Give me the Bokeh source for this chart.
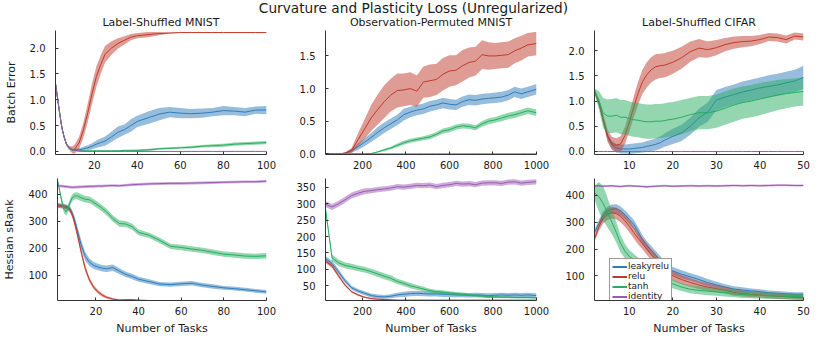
import numpy as np
from bokeh.plotting import figure
from bokeh.models import Range1d, FixedTicker, NumeralTickFormatter, Label, Legend, LegendItem
from bokeh.layouts import column, row
from bokeh.embed import file_html
from bokeh.resources import INLINE

FONT = "DejaVu Sans"
INK = "#1a1a1a"

suptitle = "Curvature and Plasticity Loss (Unregularized)"
panel_titles = ["Label-Shuffled MNIST", "Observation-Permuted MNIST", "Label-Shuffled CIFAR"]
methods = ["leakyrelu", "relu", "tanh", "identity"]
colors = ["#2f7cba", "#c0392b", "#27ae60", "#9b59b6"]
row_labels = ["Batch Error", "Hessian sRank"]
x_label = "Number of Tasks"

# ---------------- Label-Shuffled MNIST ----------------
x_lsm = [2, 4, 5, 6, 7, 8, 9, 10, 11, 13, 15, 17, 19, 21, 23, 25, 28, 31, 34, 37, 40,
         45, 50, 55, 60, 65, 70, 75, 80, 85, 90, 95, 100]

err_lsm_leakyrelu = [1.31, 0.72, 0.45, 0.28, 0.15, 0.08, 0.05, 0.03, 0.03, 0.03, 0.05, 0.07, 0.10, 0.14, 0.17, 0.20, 0.28, 0.37, 0.42, 0.50, 0.58,
                     0.65, 0.72, 0.76, 0.74, 0.73, 0.74, 0.76, 0.79, 0.78, 0.76, 0.80, 0.80]
err_lsm_leakyrelu_sd = [0.02, 0.02, 0.02, 0.02, 0.02, 0.02, 0.02, 0.02, 0.02, 0.03, 0.04, 0.05, 0.06, 0.07, 0.08, 0.09, 0.10, 0.11, 0.10, 0.12, 0.11,
                        0.12, 0.12, 0.10, 0.10, 0.09, 0.09, 0.08, 0.09, 0.08, 0.08, 0.07, 0.08]
err_lsm_relu = [1.31, 0.72, 0.45, 0.28, 0.15, 0.08, 0.05, 0.03, 0.05, 0.17, 0.42, 0.75, 1.12, 1.45, 1.68, 1.88, 2.00, 2.09, 2.15, 2.21, 2.24,
                2.26, 2.28, 2.29, 2.30, 2.30, 2.30, 2.30, 2.30, 2.30, 2.30, 2.30, 2.30]
err_lsm_relu_sd = [0.02, 0.02, 0.02, 0.03, 0.03, 0.04, 0.05, 0.07, 0.09, 0.12, 0.15, 0.18, 0.20, 0.20, 0.18, 0.16, 0.13, 0.10, 0.08, 0.06, 0.05,
                   0.05, 0.03, 0.01, 0.005, 0.005, 0.005, 0.005, 0.005, 0.005, 0.005, 0.005, 0.005]
err_lsm_tanh = [1.31, 0.72, 0.45, 0.28, 0.15, 0.08, 0.05, 0.03, 0.02, 0.01, 0.01, 0.01, 0.01, 0.01, 0.01, 0.01, 0.01, 0.01, 0.02, 0.02, 0.02,
                0.03, 0.05, 0.06, 0.07, 0.08, 0.10, 0.11, 0.12, 0.14, 0.15, 0.16, 0.17]
err_lsm_tanh_sd = [0.02, 0.02, 0.02, 0.02, 0.02, 0.02, 0.02, 0.02, 0.01, 0.01, 0.01, 0.01, 0.01, 0.01, 0.01, 0.01, 0.01, 0.01, 0.01, 0.01, 0.015,
                   0.02, 0.02, 0.02, 0.02, 0.025, 0.025, 0.03, 0.03, 0.03, 0.03, 0.03, 0.03]
err_lsm_identity = [1.31, 0.72, 0.45, 0.28, 0.15, 0.08, 0.05, 0.03, 0.02, 0.01, 0.0, 0.0, 0.0, 0.0, 0.0, 0.0, 0.0, 0.0, 0.0, 0.0, 0.0,
                    0.0, 0.0, 0.0, 0.0, 0.0, 0.0, 0.0, 0.0, 0.0, 0.0, 0.0, 0.0]
err_lsm_identity_sd = [0.01, 0.01, 0.01, 0.01, 0.01, 0.01, 0.01, 0.01, 0.005, 0.005, 0.005, 0.005, 0.005, 0.005, 0.005, 0.005, 0.005, 0.005, 0.005, 0.005, 0.005,
                       0.005, 0.005, 0.005, 0.005, 0.005, 0.005, 0.005, 0.005, 0.005, 0.005, 0.005, 0.005]

srank_lsm_leakyrelu = [360, 358, 357, 355, 352, 345, 328, 305, 275, 215, 170, 148, 136, 130, 126, 124, 128, 115, 103, 95, 85,
                       76, 67, 65, 68, 70, 63, 58, 53, 50, 46, 42, 38]
srank_lsm_leakyrelu_sd = [8, 8, 8, 8, 9, 10, 12, 14, 16, 18, 16, 14, 13, 12, 12, 12, 12, 11, 10, 10, 9,
                          9, 8, 8, 8, 8, 8, 8, 7, 7, 7, 7, 7]
srank_lsm_relu = [358, 356, 354, 352, 348, 340, 322, 295, 262, 190, 125, 82, 55, 38, 26, 18, 11, 8, 9, 9, 7,
                  6, 6, 6, 6, 6, 6, 6, 6, 6, 6, 6, 6]
srank_lsm_relu_sd = [8, 8, 8, 8, 8, 9, 10, 12, 12, 12, 11, 9, 8, 7, 6, 5, 4, 3, 3, 3, 2,
                     2, 2, 2, 2, 2, 2, 2, 2, 2, 2, 2, 2]
srank_lsm_tanh = [452, 375, 345, 335, 350, 372, 388, 394, 395, 388, 382, 380, 370, 360, 348, 335, 310, 292, 290, 280, 259,
                  248, 229, 207, 203, 197, 192, 185, 178, 175, 171, 170, 172]
srank_lsm_tanh_sd = [8, 12, 14, 14, 14, 14, 13, 13, 13, 13, 12, 12, 12, 12, 12, 12, 12, 12, 11, 11, 11,
                     10, 10, 10, 10, 10, 10, 10, 10, 10, 10, 10, 10]
srank_lsm_identity = [432, 431, 430, 429, 428, 427, 426, 427, 427, 428, 429, 430, 430, 431, 431, 432, 433, 432, 434, 436, 437,
                      439, 440, 441, 441, 442, 443, 444, 445, 446, 447, 447, 449]
srank_lsm_identity_sd = [5, 5, 5, 5, 5, 5, 5, 5, 5, 5, 5, 5, 5, 5, 5, 5, 5, 5, 5, 5, 5,
                         5, 5, 5, 5, 5, 5, 5, 5, 5, 5, 5, 5]

# ---------------- Observation-Permuted MNIST ----------------
x_opm = [30, 60, 90, 120, 150, 180, 210, 240, 270, 300, 330, 360, 390, 420, 450, 480, 510,
         540, 570, 600, 630, 660, 690, 720, 750, 780, 810, 840, 870, 900, 930, 960, 1000]

err_opm_leakyrelu = [0, 0, 0, 0.01, 0.05, 0.11, 0.18, 0.25, 0.33, 0.40, 0.46, 0.52, 0.60, 0.64, 0.67, 0.69, 0.73,
                     0.75, 0.78, 0.76, 0.75, 0.80, 0.83, 0.82, 0.84, 0.85, 0.86, 0.87, 0.90, 0.95, 0.92, 0.95, 0.99]
err_opm_leakyrelu_sd = [0, 0, 0, 0.01, 0.03, 0.05, 0.06, 0.07, 0.08, 0.08, 0.08, 0.08, 0.09, 0.08, 0.08, 0.08, 0.08,
                        0.08, 0.08, 0.08, 0.08, 0.08, 0.08, 0.08, 0.08, 0.08, 0.08, 0.08, 0.08, 0.08, 0.08, 0.08, 0.08]
err_opm_relu = [0, 0, 0, 0.01, 0.05, 0.22, 0.38, 0.55, 0.68, 0.80, 0.90, 0.97, 0.98, 1.00, 0.96, 1.10, 1.12,
                1.14, 1.22, 1.27, 1.28, 1.35, 1.40, 1.42, 1.52, 1.50, 1.50, 1.51, 1.52, 1.58, 1.62, 1.67, 1.69]
err_opm_relu_sd = [0, 0, 0, 0.01, 0.04, 0.10, 0.15, 0.20, 0.23, 0.25, 0.25, 0.26, 0.25, 0.25, 0.24, 0.24, 0.25,
                   0.24, 0.25, 0.24, 0.23, 0.24, 0.23, 0.22, 0.22, 0.21, 0.20, 0.20, 0.20, 0.19, 0.19, 0.18, 0.18]
err_opm_tanh = [0, 0, 0, 0, 0, 0, 0, 0.005, 0.03, 0.06, 0.09, 0.13, 0.17, 0.20, 0.22, 0.24, 0.26,
                0.30, 0.35, 0.37, 0.41, 0.43, 0.42, 0.40, 0.46, 0.50, 0.52, 0.55, 0.58, 0.60, 0.63, 0.66, 0.63]
err_opm_tanh_sd = [0, 0, 0, 0, 0, 0, 0, 0.005, 0.01, 0.02, 0.02, 0.03, 0.03, 0.03, 0.03, 0.03, 0.035,
                   0.035, 0.04, 0.04, 0.04, 0.04, 0.04, 0.04, 0.045, 0.045, 0.045, 0.05, 0.05, 0.05, 0.05, 0.05, 0.05]
err_opm_identity = [0, 0, 0, 0, 0, 0, 0, 0, 0, 0, 0, 0, 0, 0, 0, 0, 0,
                    0, 0, 0, 0, 0, 0, 0, 0, 0, 0, 0, 0, 0, 0, 0, 0]
err_opm_identity_sd = [0, 0, 0, 0, 0, 0, 0, 0, 0, 0, 0, 0, 0, 0, 0, 0, 0,
                       0, 0, 0, 0, 0, 0, 0, 0, 0, 0, 0, 0, 0, 0, 0, 0]

srank_opm_leakyrelu = [133, 118, 92, 65, 44, 34, 27, 20, 17, 16, 18, 22, 24, 26, 27, 26, 25,
                       25, 24, 23, 22, 22, 21, 22, 21, 20, 21, 22, 21, 22, 21, 22, 20]
srank_opm_leakyrelu_sd = [8, 8, 8, 7, 6, 6, 6, 6, 6, 6, 6, 7, 8, 8, 8, 8, 8,
                          8, 8, 7, 7, 7, 7, 7, 7, 7, 7, 7, 7, 7, 7, 7, 7]
srank_opm_relu = [125, 110, 80, 52, 32, 22, 15, 11, 9, 8, 7, 6, 6, 6, 6, 6, 6,
                  6, 6, 6, 6, 6, 6, 6, 6, 6, 6, 6, 6, 6, 6, 6, 6]
srank_opm_relu_sd = [6, 6, 5, 4, 3, 3, 2, 2, 2, 2, 1.5, 1.5, 1.5, 1.5, 1.5, 1.5, 1.5,
                     1.5, 1.5, 1.5, 1.5, 1.5, 1.5, 1.5, 1.5, 1.5, 1.5, 1.5, 1.5, 1.5, 1.5, 1.5, 1.5]
srank_opm_tanh = [285, 135, 120, 112, 108, 103, 99, 93, 86, 79, 73, 63, 57, 50, 45, 40, 35,
                  32, 30, 28, 26, 24, 22, 20, 19, 17, 16, 15, 15, 14, 14, 14, 13]
srank_opm_tanh_sd = [8, 10, 10, 9, 9, 9, 9, 9, 9, 9, 9, 8, 8, 8, 7, 7, 6,
                     6, 6, 5, 5, 5, 4, 4, 4, 4, 3, 3, 3, 3, 3, 3, 3]
srank_opm_identity = [299, 290, 300, 312, 325, 332, 338, 340, 343, 345, 348, 352, 351, 353, 356, 355, 357,
                      352, 356, 358, 362, 360, 361, 358, 363, 364, 364, 362, 366, 367, 363, 365, 367]
srank_opm_identity_sd = [9, 9, 9, 9, 9, 9, 9, 8, 8, 8, 8, 8, 8, 8, 8, 8, 8,
                         8, 8, 8, 8, 8, 8, 8, 8, 8, 8, 8, 8, 8, 8, 8, 8]

# ---------------- Label-Shuffled CIFAR ----------------
x_lsc = [2, 3, 4, 5, 6, 7, 8, 9, 10, 11, 12, 13, 14, 15, 16, 17, 18, 19, 20,
         22, 24, 26, 28, 30, 32, 34, 36, 38, 40, 42, 44, 46, 48, 50]

err_lsc_leakyrelu = [1.20, 0.97, 0.62, 0.30, 0.13, 0.07, 0.05, 0.05, 0.05, 0.06, 0.07, 0.08, 0.10, 0.12, 0.14, 0.17, 0.22, 0.26, 0.30,
                     0.37, 0.50, 0.67, 0.78, 1.02, 1.08, 1.13, 1.18, 1.22, 1.26, 1.29, 1.32, 1.36, 1.40, 1.47]
err_lsc_leakyrelu_sd = [0.04, 0.05, 0.06, 0.07, 0.08, 0.08, 0.09, 0.09, 0.10, 0.10, 0.10, 0.10, 0.11, 0.11, 0.12, 0.12, 0.13, 0.14, 0.15,
                        0.16, 0.17, 0.18, 0.19, 0.20, 0.20, 0.20, 0.21, 0.21, 0.21, 0.22, 0.22, 0.22, 0.22, 0.23]
err_lsc_relu = [1.20, 0.98, 0.65, 0.31, 0.16, 0.12, 0.15, 0.32, 0.58, 0.88, 1.15, 1.38, 1.52, 1.62, 1.68, 1.70, 1.71, 1.74, 1.77,
                1.86, 1.98, 2.05, 2.02, 2.06, 2.12, 2.16, 2.18, 2.19, 2.22, 2.27, 2.26, 2.22, 2.29, 2.27]
err_lsc_relu_sd = [0.04, 0.07, 0.10, 0.12, 0.13, 0.14, 0.15, 0.17, 0.19, 0.21, 0.23, 0.24, 0.25, 0.25, 0.25, 0.24, 0.24, 0.24, 0.23,
                   0.22, 0.20, 0.18, 0.16, 0.15, 0.13, 0.12, 0.11, 0.10, 0.09, 0.08, 0.08, 0.08, 0.07, 0.07]
err_lsc_tanh = [1.20, 1.02, 0.76, 0.70, 0.70, 0.72, 0.68, 0.68, 0.65, 0.63, 0.62, 0.60, 0.59, 0.59, 0.60, 0.60, 0.61, 0.63, 0.64,
                0.68, 0.73, 0.77, 0.77, 0.80, 0.86, 0.92, 0.97, 1.00, 1.04, 1.08, 1.12, 1.15, 1.17, 1.19]
err_lsc_tanh_sd = [0.05, 0.18, 0.30, 0.33, 0.34, 0.34, 0.34, 0.34, 0.34, 0.34, 0.34, 0.34, 0.34, 0.34, 0.34, 0.34, 0.34, 0.34, 0.34,
                   0.34, 0.33, 0.33, 0.33, 0.33, 0.33, 0.33, 0.32, 0.32, 0.32, 0.31, 0.30, 0.29, 0.28, 0.28]
err_lsc_identity = [0, 0, 0, 0, 0, 0, 0, 0, 0, 0, 0, 0, 0, 0, 0, 0, 0, 0, 0,
                    0, 0, 0, 0, 0, 0, 0, 0, 0, 0, 0, 0, 0, 0, 0]
err_lsc_identity_sd = [0, 0, 0, 0, 0, 0, 0, 0, 0, 0, 0, 0, 0, 0, 0, 0, 0, 0, 0,
                       0, 0, 0, 0, 0, 0, 0, 0, 0, 0, 0, 0, 0, 0, 0]

srank_lsc_leakyrelu = [262, 295, 325, 342, 349, 350, 342, 328, 310, 292, 265, 235, 213, 195, 178, 160, 140, 128, 118,
                       106, 96, 86, 75, 66, 58, 51, 47, 44, 41, 37, 35, 33, 31, 31]
srank_lsc_leakyrelu_sd = [10, 14, 16, 17, 17, 17, 17, 17, 17, 17, 17, 17, 17, 17, 16, 16, 16, 15, 15,
                          15, 14, 14, 13, 12, 11, 10, 10, 9, 9, 8, 8, 8, 8, 8]
srank_lsc_relu = [238, 282, 315, 330, 336, 332, 322, 305, 285, 262, 240, 220, 200, 180, 162, 142, 128, 112, 100,
                  86, 75, 66, 58, 52, 46, 38, 34, 31, 29, 26, 24, 22, 20, 19]
srank_lsc_relu_sd = [10, 15, 20, 22, 22, 22, 22, 22, 22, 22, 22, 21, 21, 20, 20, 20, 19, 19, 18,
                     17, 16, 15, 14, 13, 12, 12, 11, 11, 10, 10, 10, 9, 9, 9]
srank_lsc_tanh = [410, 395, 370, 335, 300, 262, 220, 192, 172, 160, 148, 135, 122, 112, 105, 96, 86, 77, 70,
                  58, 50, 46, 43, 40, 37, 33, 30, 28, 27, 26, 25, 24, 23, 22]
srank_lsc_tanh_sd = [25, 55, 65, 55, 45, 38, 32, 27, 24, 22, 20, 19, 18, 17, 17, 16, 16, 16, 16,
                     15, 15, 15, 15, 14, 14, 13, 13, 12, 12, 12, 11, 11, 11, 11]
srank_lsc_identity = [435, 436, 434, 435, 436, 434, 433, 435, 436, 435, 434, 433, 432, 433, 434, 435, 436, 435, 434,
                      435, 436, 435, 436, 435, 436, 437, 436, 437, 436, 437, 438, 438, 437, 437]
srank_lsc_identity_sd = [4, 4, 4, 4, 4, 4, 4, 4, 4, 4, 4, 4, 4, 4, 4, 4, 4, 4, 4,
                         4, 4, 4, 4, 4, 4, 4, 4, 4, 4, 4, 4, 4, 4, 4]

# tick values
xticks_lsm = [20, 40, 60, 80, 100]
xticks_opm = [200, 400, 600, 800, 1000]
xticks_lsc = [10, 20, 30, 40, 50]
yticks_err_lsm = [0.0, 0.5, 1.0, 1.5, 2.0]
yticks_err_opm = [0.0, 0.5, 1.0, 1.5]
yticks_err_lsc = [0.0, 0.5, 1.0, 1.5, 2.0]
yticks_srank_lsm = [100, 200, 300, 400]
yticks_srank_opm = [50, 100, 150, 200, 250, 300, 350]
yticks_srank_lsc = [100, 200, 300, 400]


def make_panel(width, height, borders, xr, yr, xticks, yticks, yfmt, x, series,
               xlabel=None, ylabel=None, legend=False):
    left, right, top, bottom = borders
    p = figure(width=width, height=height, x_range=Range1d(*xr), y_range=Range1d(*yr),
               toolbar_location=None, output_backend="svg", title=None,
               min_border_left=left, min_border_right=right,
               min_border_top=top, min_border_bottom=bottom)
    p.outline_line_color = None
    p.background_fill_color = "white"
    p.border_fill_color = "white"
    p.grid.visible = False
    xa = np.asarray(x, dtype=float)
    legend_renderers = []
    for (name, mean, sd), c in zip(series, colors):
        m = np.asarray(mean, dtype=float)
        s = np.asarray(sd, dtype=float)
        p.varea(x=xa, y1=m - s, y2=m + s, fill_color=c, fill_alpha=0.5)
        p.line(x=xa, y=m, line_color=c, line_width=1)
        if legend:
            # single-point line: draws nothing in the plot, only supplies the legend swatch
            legend_renderers.append(p.line(x=xa[:1], y=m[:1], line_color=c, line_width=2))
    p.xaxis.ticker = FixedTicker(ticks=xticks)
    p.yaxis.ticker = FixedTicker(ticks=yticks)
    p.yaxis.formatter = NumeralTickFormatter(format=yfmt)
    p.xaxis.formatter = NumeralTickFormatter(format="0")
    for ax in (p.xaxis, p.yaxis):
        ax.axis_line_color = "#333333"
        ax.axis_line_width = 1
        ax.major_tick_in = 3
        ax.major_tick_out = 0
        ax.major_tick_line_color = "#333333"
        ax.minor_tick_line_color = None
        ax.major_label_text_font = FONT
        ax.major_label_text_font_size = "10px"
        ax.major_label_text_color = INK
        ax.axis_label_text_font = FONT
        ax.axis_label_text_font_size = "11px"
        ax.axis_label_text_font_style = "normal"
        ax.axis_label_text_color = INK
    p.xaxis.major_label_standoff = 6
    p.yaxis.major_label_standoff = 10
    if xlabel:
        p.xaxis.axis_label = xlabel
        p.xaxis.axis_label_standoff = 4
    if ylabel:
        p.yaxis.axis_label = ylabel
        p.yaxis.axis_label_standoff = 9
    if legend:
        items = [LegendItem(label=name, renderers=[r])
                 for (name, _, _), r in zip(series, legend_renderers)]
        leg = Legend(items=items, location=(15, -4))
        leg.label_text_font = FONT
        leg.label_text_font_size = "9px"
        leg.label_text_color = INK
        leg.glyph_width = 15
        leg.glyph_height = 9
        leg.label_height = 9
        leg.label_standoff = 1
        leg.spacing = 0
        leg.padding = 2
        leg.margin = 0
        leg.border_line_color = "#333333"
        leg.border_line_width = 1
        leg.background_fill_color = "white"
        leg.background_fill_alpha = 1.0
        p.add_layout(leg)
    return p


TOTAL_W = 812
W1, W2, W3 = 285, 270, 257
B1, B2, B3 = (55, 19), (40, 19), (39, 9)
H_HEAD, H_R1, H_R2 = 29, 143, 165

# header with titles
head = figure(width=TOTAL_W, height=H_HEAD, x_range=Range1d(0, TOTAL_W), y_range=Range1d(0, H_HEAD),
              toolbar_location=None, output_backend="svg", title=None,
              x_axis_location=None, y_axis_location=None,
              min_border_left=0, min_border_right=0, min_border_top=0, min_border_bottom=0)
head.outline_line_color = None
head.grid.visible = False
head.add_layout(Label(x=413, y=21.8, text=suptitle, text_align="center", text_baseline="middle",
                      text_font=FONT, text_font_size="13.7px", text_color=INK))
for cx, t in zip([160.5, 430.5, 698.5], panel_titles):
    head.add_layout(Label(x=cx, y=7.5, text=t, text_align="center", text_baseline="middle",
                          text_font=FONT, text_font_size="11px", text_color=INK))

top_lsm = make_panel(W1, H_R1, (B1[0], B1[1], 1, 18), (2, 100), (-0.06, 2.34), xticks_lsm, yticks_err_lsm, "0.0", x_lsm,
                     [("leakyrelu", err_lsm_leakyrelu, err_lsm_leakyrelu_sd), ("relu", err_lsm_relu, err_lsm_relu_sd),
                      ("tanh", err_lsm_tanh, err_lsm_tanh_sd), ("identity", err_lsm_identity, err_lsm_identity_sd)],
                     ylabel=row_labels[0])
top_opm = make_panel(W2, H_R1, (B2[0], B2[1], 1, 18), (30, 1000), (-0.01, 1.89), xticks_opm, yticks_err_opm, "0.0", x_opm,
                     [("leakyrelu", err_opm_leakyrelu, err_opm_leakyrelu_sd), ("relu", err_opm_relu, err_opm_relu_sd),
                      ("tanh", err_opm_tanh, err_opm_tanh_sd), ("identity", err_opm_identity, err_opm_identity_sd)])
top_lsc = make_panel(W3, H_R1, (B3[0], B3[1], 1, 18), (2, 50), (-0.06, 2.40), xticks_lsc, yticks_err_lsc, "0.0", x_lsc,
                     [("leakyrelu", err_lsc_leakyrelu, err_lsc_leakyrelu_sd), ("relu", err_lsc_relu, err_lsc_relu_sd),
                      ("tanh", err_lsc_tanh, err_lsc_tanh_sd), ("identity", err_lsc_identity, err_lsc_identity_sd)])

bot_lsm = make_panel(W1, H_R2, (B1[0], B1[1], 6, 35), (2, 100), (6, 459), xticks_lsm, yticks_srank_lsm, "0", x_lsm,
                     [("leakyrelu", srank_lsm_leakyrelu, srank_lsm_leakyrelu_sd), ("relu", srank_lsm_relu, srank_lsm_relu_sd),
                      ("tanh", srank_lsm_tanh, srank_lsm_tanh_sd), ("identity", srank_lsm_identity, srank_lsm_identity_sd)],
                     xlabel=x_label, ylabel=row_labels[1])
bot_opm = make_panel(W2, H_R2, (B2[0], B2[1], 6, 35), (30, 1000), (5, 377), xticks_opm, yticks_srank_opm, "0", x_opm,
                     [("leakyrelu", srank_opm_leakyrelu, srank_opm_leakyrelu_sd), ("relu", srank_opm_relu, srank_opm_relu_sd),
                      ("tanh", srank_opm_tanh, srank_opm_tanh_sd), ("identity", srank_opm_identity, srank_opm_identity_sd)],
                     xlabel=x_label)
bot_lsc = make_panel(W3, H_R2, (B3[0], B3[1], 6, 35), (2, 50), (8, 463), xticks_lsc, yticks_srank_lsc, "0", x_lsc,
                     [("leakyrelu", srank_lsc_leakyrelu, srank_lsc_leakyrelu_sd), ("relu", srank_lsc_relu, srank_lsc_relu_sd),
                      ("tanh", srank_lsc_tanh, srank_lsc_tanh_sd), ("identity", srank_lsc_identity, srank_lsc_identity_sd)],
                     xlabel=x_label, legend=True)

layout = column(head, row(top_lsm, top_opm, top_lsc), row(bot_lsm, bot_opm, bot_lsc))

open("out.html", "w").write(file_html(layout, INLINE))
